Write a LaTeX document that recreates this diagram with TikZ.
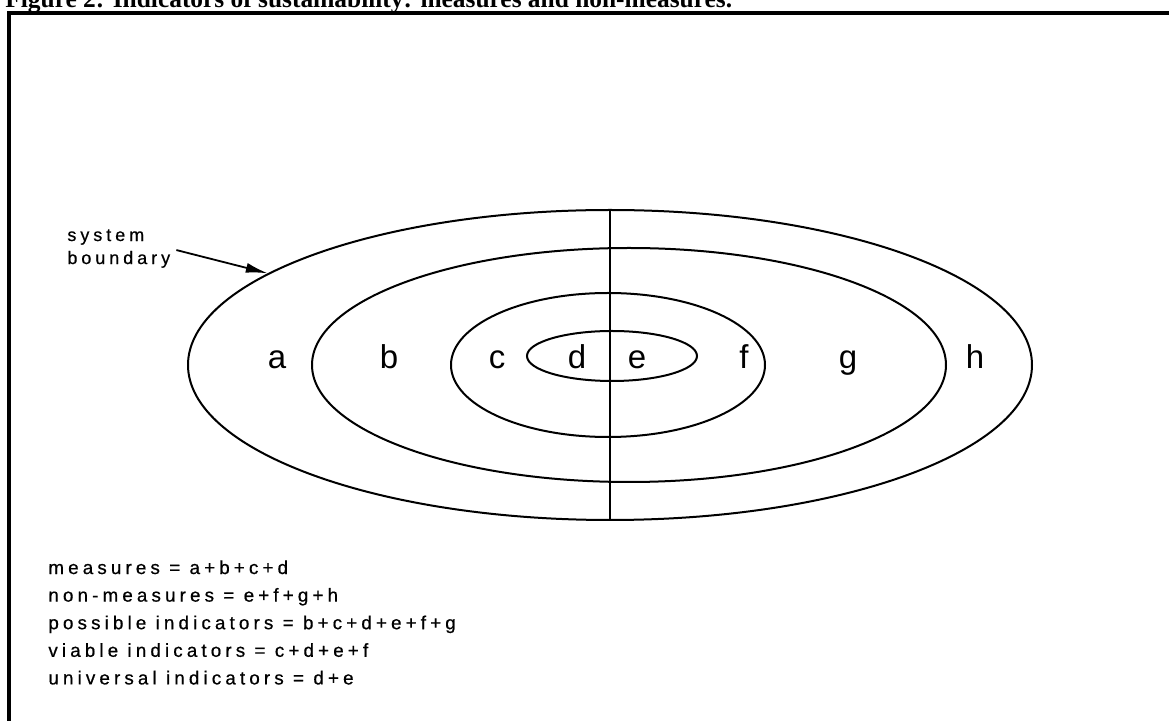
\documentclass[tikz,border=0pt]{standalone}
\usepackage{fontspec}
\usetikzlibrary{arrows.meta,shapes.geometric}
\newfontfamily\lblfont{Liberation Sans}
\newfontfamily\spacedfont[LetterSpace=22,FakeBold=0.6]{Liberation Sans}
\newfontfamily\ttlfont{Liberation Serif}

\begin{document}
\begin{tikzpicture}[x=0.5pt,y=-0.5pt,
  ring/.style={draw,ellipse,line width=1pt,inner sep=0pt},
  lbl/.style={anchor=base,font=\lblfont\fontsize{16.5}{18}\selectfont},
  note/.style={anchor=north west,inner sep=0pt,align=left},
  arr/.style={-{Latex[length=11pt,width=5pt]},line width=0.9pt},
  frame/.style={line width=1.6pt}
]
\fill[white] (0,0) rectangle (1169,721);
\useasboundingbox (0,0) rectangle (1169,721);
\node[anchor=base west,inner sep=0pt,font=\ttlfont\bfseries\fontsize{12.7}{14}\selectfont] (ttl) at (5,8) {Figure 2: Indicators of sustainability: measures and non-measures.};
\draw[frame] (9,721) -- (9,13) -- (1169,13);
\node[ring,minimum width=422pt,minimum height=155pt] (sysb) at (610,365) {};
\node[ring,minimum width=317pt,minimum height=117pt] (ring2) at (629,365) {};
\node[ring,minimum width=157pt,minimum height=72pt] (ring3) at (608,365) {};
\node[ring,minimum width=85pt,minimum height=25pt] (core) at (612,356) {};
\draw[line width=1pt] (sysb.north) -- (sysb.south);
\node[lbl] (la) at (277,369) {a};
\node[lbl] (lb) at (389,369) {b};
\node[lbl] (lc) at (497,369) {c};
\node[lbl] (ld) at (577,369) {d};
\node[lbl] (le) at (637,369) {e};
\node[lbl] (lf) at (744,369) {f};
\node[lbl] (lg) at (848,369) {g};
\node[lbl] (lh) at (975,369) {h};
\node[note,font=\spacedfont\fontsize{9}{11.5}\selectfont] (sb) at (67,229) {system\\ boundary};
\draw[arr,shorten <=3pt] (sb.east) -- (sysb.165.6);
\node[note,font=\spacedfont\fontsize{9.4}{13.8}\selectfont] (legend) at (48,560) {measures = a+b+c+d\\ non-measures = e+f+g+h\\ possible indicators = b+c+d+e+f+g\\ viable indicators = c+d+e+f\\ universal indicators = d+e};
\end{tikzpicture}
\end{document}
